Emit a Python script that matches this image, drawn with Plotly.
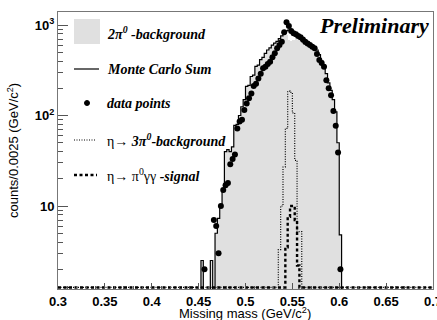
import numpy as np
import plotly.graph_objects as go

# ---------------- data ----------------
X_MIN, X_MAX = 0.3, 0.7
BIN_WIDTH = 0.0025

# Monte Carlo sum, bins of 0.0025 starting at 0.45
mc_sum_start = 0.45
mc_sum = [0, 2.5, 0, 0, 0, 2.5, 0, 5, 7.3, 10,
          15, 40, 42, 40, 45, 78, 80, 100, 125, 150,
          210, 215, 270, 280, 350, 360, 415, 440, 487, 530,
          560, 600, 630, 660, 710, 760, 820, 860, 880, 850,
          800, 776, 740, 700, 655, 620, 600, 580, 575, 560,
          530, 470, 400, 360, 290, 230, 190, 150, 110, 50,
          4.8]

# eta -> 3pi0 background
bkg3pi0_start = 0.535
bkg3pi0 = [3.3, 10, 27, 72, 186, 180, 107, 32, 5.2, 5.2]

# eta -> pi0 gamma gamma signal
signal_start = 0.5425
signal = [3.5, 7.6, 10, 10, 7, 2.2]

# data points
data_mass = [0.45625, 0.46625, 0.46875, 0.47125, 0.47375, 0.47625, 0.47875, 0.48125,
             0.48375, 0.48625, 0.48875, 0.49125, 0.49375, 0.49625, 0.49875, 0.50125,
             0.50375, 0.50625, 0.50875, 0.51125, 0.51375, 0.51625, 0.51875, 0.52125,
             0.52375, 0.52625, 0.52875, 0.53125, 0.53375, 0.53625, 0.53875, 0.54125,
             0.54375, 0.54625, 0.54875, 0.55125, 0.55375, 0.55625, 0.55875, 0.56125,
             0.56375, 0.56625, 0.56875, 0.57125, 0.57375, 0.57625, 0.57875, 0.58125,
             0.58375, 0.58625, 0.58875, 0.59125, 0.59375, 0.59625, 0.59875, 0.60125]
data_counts = [2, 7, 6, 3, 10, 15, 17, 18,
               29, 33, 37, 72, 86, 90, 115, 136,
               155, 175, 212, 225, 257, 290, 333, 345,
               370, 393, 440, 487, 553, 600, 655, 830,
               1070, 975, 860, 810, 790, 755, 731, 690,
               655, 625, 600, 575, 553, 480, 410, 380,
               347, 245, 200, 168, 112, 77, 39, 2]

x_tick_vals = [0.3, 0.35, 0.4, 0.45, 0.5, 0.55, 0.6, 0.65, 0.7]
x_tick_text = ["0.3", "0.35", "0.4", "0.45", "0.5", "0.55", "0.6", "0.65", "0.7"]
y_tick_vals = [10, 100, 1000]
y_tick_text = ["10", "10<sup>2</sup>", "10<sup>3</sup>"]

# ---------------- helpers ----------------
Y_LOG_RANGE = [0.083, 3.144]
ZERO_LEVEL = 10 ** 0.1     # empty bins drawn just above the bottom axis
BELOW_AXIS = 1.0           # empty bins hidden below the axis

n_bins = int(round((X_MAX - X_MIN) / BIN_WIDTH))
edges = X_MIN + BIN_WIDTH * np.arange(n_bins + 1)
centers = edges[:-1] + BIN_WIDTH / 2


def full_hist(start, values):
    h = np.zeros(n_bins)
    i0 = int(round((start - X_MIN) / BIN_WIDTH))
    h[i0:i0 + len(values)] = values
    return h


def step_xy(h, empty_level):
    y = np.where(h > 0, h, empty_level)
    return edges, np.append(y, y[-1])


h_mc = full_hist(mc_sum_start, mc_sum)
h_3pi = full_hist(bkg3pi0_start, bkg3pi0)
h_sig = full_hist(signal_start, signal)
h_2pi = np.clip(h_mc - h_3pi - h_sig, 0, None)

fig = go.Figure()

mask = h_2pi > 0
fig.add_trace(go.Bar(x=centers[mask], y=h_2pi[mask], width=BIN_WIDTH,
                     marker=dict(color="#e0e0e0", line=dict(width=0)),
                     hoverinfo="skip"))

x3, y3 = step_xy(h_3pi, ZERO_LEVEL)
fig.add_trace(go.Scatter(x=x3, y=y3, mode="lines", line_shape="hv",
                         line=dict(color="black", width=1.2, dash="1px,1.5px"),
                         hoverinfo="skip"))

xs, ys = step_xy(h_sig, ZERO_LEVEL)
fig.add_trace(go.Scatter(x=xs, y=ys, mode="lines", line_shape="hv",
                         line=dict(color="black", width=2.4, dash="3px,2.5px"),
                         hoverinfo="skip"))

xm, ym = step_xy(h_mc, BELOW_AXIS)
fig.add_trace(go.Scatter(x=xm, y=ym, mode="lines", line_shape="hv",
                         line=dict(color="black", width=1.2),
                         hoverinfo="skip"))

fig.add_trace(go.Scatter(x=data_mass, y=data_counts, mode="markers",
                         marker=dict(color="black", size=6),
                         hoverinfo="skip"))

# ---------------- layout ----------------
L, R, T, B = 58, 4, 12, 31
W, H = 437, 320
PW, PH = W - L - R, H - T - B


def px(x):
    return (x - L) / PW


def py(y):
    return (H - B - y) / PH


tick_font = dict(family="Liberation Sans", size=13, color="black", weight="bold")

fig.update_layout(
    width=W, height=H, margin=dict(l=L, r=R, t=T, b=B),
    paper_bgcolor="white", plot_bgcolor="white",
    showlegend=False, bargap=0,
    xaxis=dict(range=[X_MIN, X_MAX], tickmode="array", tickvals=x_tick_vals,
               ticktext=x_tick_text, ticks="inside", ticklen=6, tickcolor="#555",
               tickfont=tick_font, showline=True, linecolor="#777", linewidth=1,
               mirror=True, showgrid=False, zeroline=False, automargin=False,
               ticklabeloverflow="allow",
               minor=dict(tickvals=list(np.round(np.arange(0.31, 0.70, 0.01), 3)),
                          ticks="inside", ticklen=3, tickcolor="#555", showgrid=False)),
    yaxis=dict(type="log", range=Y_LOG_RANGE, tickmode="array", tickvals=y_tick_vals,
               ticktext=y_tick_text, ticks="inside", ticklen=10, tickcolor="#555",
               tickfont=tick_font, showline=True, linecolor="#777", linewidth=1,
               mirror=True, showgrid=False, zeroline=False, automargin=False,
               minor=dict(tickvals=[m * 10 ** d for d in range(0, 4) for m in range(2, 10)],
                          ticks="inside", ticklen=5, tickcolor="#555", showgrid=False)),
)

annotations = []
shapes = []

# axis titles
annotations.append(dict(text="Missing mass (GeV/c<sup>2</sup>)", xref="paper", yref="paper",
                        x=px(245), y=py(313), xanchor="center", yanchor="middle",
                        showarrow=False, font=dict(family="Liberation Sans", size=13, color="black")))
annotations.append(dict(text="counts/0.0025 (GeV/c<sup>2</sup>)", xref="paper", yref="paper",
                        x=px(13), y=py(151), xanchor="center", yanchor="middle", textangle=-90,
                        showarrow=False, font=dict(family="Liberation Sans", size=13, color="black")))
# Preliminary
annotations.append(dict(text="<b><i>Preliminary</i></b>", xref="paper", yref="paper",
                        x=px(431), y=py(25), xanchor="right", yanchor="middle",
                        showarrow=False, font=dict(family="Liberation Serif", size=22, color="black")))

# manual legend
legend_font = dict(family="Liberation Serif", size=14, color="black")
entries = [
    (33, "<b><i>2π<sup>0</sup> -background</i></b>"),
    (69, "<b><i>Monte Carlo Sum</i></b>"),
    (103, "<b><i>data points</i></b>"),
    (140, "η→ <b><i>3π<sup>0</sup>-background</i></b>"),
    (175, "η→ π<sup>0</sup>γγ <b><i>-signal</i></b>"),
]
for yy, txt in entries:
    annotations.append(dict(text=txt, xref="paper", yref="paper", x=px(105), y=py(yy),
                            xanchor="left", yanchor="middle", showarrow=False, font=legend_font))

shapes.append(dict(type="rect", xref="paper", yref="paper", x0=px(74), x1=px(100),
                   y0=py(44), y1=py(19), fillcolor="#e0e0e0", line=dict(width=0)))
shapes.append(dict(type="line", xref="paper", yref="paper", x0=px(74), x1=px(99),
                   y0=py(69), y1=py(69), line=dict(color="black", width=1.2)))
shapes.append(dict(type="circle", xref="paper", yref="paper", x0=px(84.5), x1=px(89.5),
                   y0=py(105.5), y1=py(100.5), fillcolor="black", line=dict(color="black", width=1)))
shapes.append(dict(type="line", xref="paper", yref="paper", x0=px(74), x1=px(96),
                   y0=py(140), y1=py(140), line=dict(color="black", width=1.2, dash="1px,1.5px")))
shapes.append(dict(type="line", xref="paper", yref="paper", x0=px(74), x1=px(97),
                   y0=py(175), y1=py(175), line=dict(color="black", width=2.4, dash="3px,2.5px")))

fig.update_layout(annotations=annotations, shapes=shapes)

fig.write_html("out.html", config={"displayModeBar": False},
               post_script="document.body.style.margin='0';")
